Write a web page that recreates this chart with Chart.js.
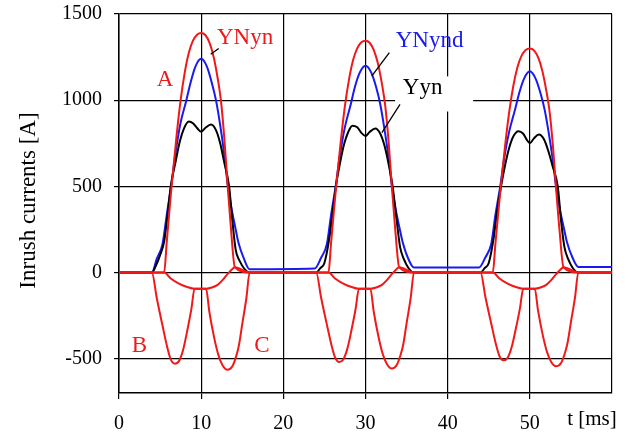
<!DOCTYPE html>
<html>
<head>
<meta charset="utf-8">
<script src="https://cdn.jsdelivr.net/npm/chart.js@4.4.1/dist/chart.umd.min.js"></script>
<style>
  html, body { margin: 0; padding: 0; background: #fff; }
  canvas { display: block; }
</style>
</head>
<body>
<canvas id="c" width="631" height="434"></canvas>
<script>
// ---------------- DATA ----------------
const xTicks = [0, 10, 20, 30, 40, 50];
const yTicks = [-500, 0, 500, 1000, 1500];
const xTitle = 't [ms]';
const yTitle = 'Inrush currents [A]';

// YNyn phase A (red)
const tA = [0, 5.5, 5.8, 6.1, 6.4, 7.0, 7.5, 8.0, 8.5, 9.0, 9.5, 10.0, 10.5, 11.0, 11.5, 12.0, 12.4, 12.8, 13.2, 13.6, 14.1, 15.9,
            25.5, 25.8, 26.1, 26.4, 27.0, 27.5, 28.0, 28.5, 29.0, 29.5, 30.0, 30.5, 31.0, 31.5, 32.0, 32.4, 32.8, 33.2, 33.6, 34.1, 35.9,
            45.5, 45.8, 46.1, 46.4, 47.0, 47.5, 48.0, 48.5, 49.0, 49.5, 50.0, 50.5, 51.0, 51.5, 52.0, 52.4, 52.8, 53.2, 53.6, 54.1, 55.9, 60];
const iA = [0, 0, 170, 340, 500, 790, 1000, 1160, 1275, 1345, 1380, 1390, 1378, 1335, 1255, 1130, 1000, 790, 520, 270, 30, 0,
            0, 165, 330, 485, 765, 968, 1122, 1234, 1302, 1336, 1345, 1333, 1292, 1215, 1094, 968, 765, 503, 261, 30, 0,
            0, 160, 318, 468, 740, 935, 1085, 1192, 1258, 1291, 1300, 1289, 1249, 1174, 1057, 935, 740, 486, 252, 30, 0, 0];

// YNyn phase B (red)
const tB = [0, 4.0, 4.6, 5.3, 5.9, 6.3, 6.8, 7.3, 7.8, 8.3, 8.8, 9.2, 10.6, 11.3, 12.0, 12.6, 13.2, 13.8, 14.1, 15.9,
            24.0, 24.6, 25.3, 25.9, 26.3, 26.8, 27.3, 27.8, 28.3, 28.8, 29.2, 30.6, 31.3, 32.0, 32.6, 33.2, 33.8, 34.1, 35.9,
            44.0, 44.6, 45.3, 45.9, 46.3, 46.8, 47.3, 47.8, 48.3, 48.8, 49.2, 50.6, 51.3, 52.0, 52.6, 53.2, 53.8, 54.1, 55.9, 60];
const iB = [0, 0, -150, -310, -440, -505, -530, -515, -450, -340, -215, -95, -95, -88, -72, -45, -10, 20, 30, 0,
            0, -147, -303, -430, -494, -520, -505, -441, -333, -211, -95, -95, -88, -72, -45, -10, 20, 30, 0,
            0, -144, -297, -422, -485, -510, -495, -432, -326, -207, -95, -95, -88, -72, -45, -10, 20, 30, 0, 0];

// YNyn phase C (red)
const tC = [0, 5.5, 6.3, 7.3, 8.3, 9.2, 10.6, 11.0, 11.6, 12.1, 12.6, 13.2, 13.8, 14.3, 14.6, 15.0, 15.5, 15.9,
            25.5, 26.3, 27.3, 28.3, 29.2, 30.6, 31.0, 31.6, 32.1, 32.6, 33.2, 33.8, 34.3, 34.6, 35.0, 35.5, 35.9,
            45.5, 46.3, 47.3, 48.3, 49.2, 50.6, 51.0, 51.6, 52.1, 52.6, 53.2, 53.8, 54.3, 54.6, 55.0, 55.5, 55.9, 60];
const iC = [0, 0, -35, -65, -85, -95, -95, -230, -383, -480, -539, -565, -545, -480, -422, -300, -150, 0,
            0, -35, -65, -85, -95, -95, -227, -378, -474, -532, -558, -538, -474, -417, -296, -148, 0,
            0, -35, -65, -85, -95, -95, -222, -370, -463, -520, -545, -526, -463, -407, -289, -145, 0, 0];

// YNynd (blue)
const tYNynd = [0, 4.0, 4.6, 5.3, 5.8, 6.4, 6.9, 7.5, 8.2, 8.7, 9.3, 10.0, 10.7, 11.3, 11.8, 12.3, 12.8, 13.2, 13.7, 14.2, 14.5, 15.2, 15.9,
                23.8, 24.6, 25.3, 25.8, 26.4, 26.9, 27.5, 28.2, 28.7, 29.3, 30.0, 30.7, 31.3, 31.8, 32.3, 32.8, 33.2, 33.7, 34.2, 34.5, 35.2, 35.9,
                43.8, 44.6, 45.3, 45.8, 46.4, 46.9, 47.5, 48.2, 48.7, 49.3, 50.0, 50.7, 51.3, 51.8, 52.3, 52.8, 53.2, 53.7, 54.2, 54.5, 55.2, 55.9, 60];
const iYNynd = [0, 0, 80, 165, 330, 520, 700, 870, 1000, 1100, 1195, 1240, 1195, 1100, 1000, 860, 690, 520, 370, 250, 180, 80, 18,
                22, 85, 165, 330, 510, 685, 845, 975, 1075, 1160, 1200, 1160, 1075, 975, 835, 670, 505, 360, 245, 180, 80, 28,
                28, 88, 165, 330, 500, 670, 820, 945, 1040, 1125, 1167, 1125, 1040, 945, 810, 650, 495, 355, 245, 180, 85, 32, 32];

// Yyn (black)
const tYyn = [0, 4.0, 4.5, 5.0, 5.5, 5.9, 6.3, 6.9, 7.4, 7.9, 8.5, 9.0, 9.5, 10.0, 10.5, 11.2, 11.8, 12.3, 12.8, 13.4, 13.8, 14.2, 14.6, 15.9,
              24.0, 24.5, 25.0, 25.6, 26.0, 26.4, 26.9, 27.4, 27.9, 28.4, 29.0, 29.5, 30.0, 30.5, 31.2, 31.8, 32.3, 32.8, 33.3, 33.8, 34.2, 34.6, 35.9,
              44.0, 44.5, 45.0, 45.6, 46.0, 46.5, 47.0, 47.5, 48.0, 48.6, 49.2, 49.6, 50.0, 50.5, 51.1, 51.7, 52.2, 52.8, 53.4, 53.8, 54.2, 54.6, 55.9, 60];
const iYyn = [0, 0, 40, 100, 180, 330, 500, 645, 760, 835, 876, 866, 838, 816, 838, 858, 826, 752, 640, 500, 300, 132, 74, 0,
              0, 25, 55, 200, 350, 500, 635, 745, 815, 852, 842, 810, 792, 815, 835, 805, 738, 632, 500, 300, 150, 85, 0,
              0, 25, 55, 200, 350, 500, 625, 725, 790, 820, 805, 772, 750, 778, 800, 774, 712, 612, 500, 300, 150, 85, 0, 0];

// ---------------- annotations (positions in data units) ----------------
const RED = '#f01818', BLUE = '#1a1af0', BLACK = '#000';
const notes = [
  { text: 'YNyn',  t: 15.34, v: 1328, color: RED },
  { text: 'A',     t: 5.6,   v: 1081, color: RED },
  { text: 'YNynd', t: 37.8,  v: 1306, color: BLUE },
  { text: 'Yyn',   t: 36.95, v: 1033, color: BLACK },
  { text: 'B',     t: 2.5,   v: -461, color: RED },
  { text: 'C',     t: 17.4,  v: -461, color: RED }
];
const leaders = [
  [11.16, 1266, 12.13, 1300],
  [32.9, 1276, 30.76, 1140],
  [34.2, 975, 32.0, 812]
];
const maskBox = [33.6, 1138, 43.1, 934];

function pts(ts, vs) { return ts.map((t, i) => ({ x: t, y: vs[i] })); }

const SERIF = "'Liberation Serif', 'Times New Roman', Times, serif";

const annotPlugin = {
  id: 'annot',
  afterDatasetsDraw(chart) {
    const { ctx, scales: { x, y }, chartArea } = chart;
    ctx.save();
    // white mask behind the Yyn label
    const bx0 = x.getPixelForValue(maskBox[0]), by0 = y.getPixelForValue(maskBox[1]);
    const bx1 = x.getPixelForValue(maskBox[2]), by1 = y.getPixelForValue(maskBox[3]);
    ctx.fillStyle = '#fff';
    ctx.fillRect(bx0, by0, bx1 - bx0, by1 - by0);
    // leader lines
    ctx.strokeStyle = '#000';
    ctx.lineWidth = 1.3;
    leaders.forEach(l => {
      ctx.beginPath();
      ctx.moveTo(x.getPixelForValue(l[0]), y.getPixelForValue(l[1]));
      ctx.lineTo(x.getPixelForValue(l[2]), y.getPixelForValue(l[3]));
      ctx.stroke();
    });
    // labels
    ctx.font = '23px ' + SERIF;
    ctx.textAlign = 'center';
    ctx.textBaseline = 'alphabetic';
    notes.forEach(n => {
      ctx.fillStyle = n.color;
      ctx.fillText(n.text, x.getPixelForValue(n.t), y.getPixelForValue(n.v));
    });
    // axis titles
    ctx.fillStyle = '#000';
    ctx.font = '21px ' + SERIF;
    ctx.textAlign = 'center';
    ctx.fillText(xTitle, 592, chartArea.bottom + 32);
    ctx.save();
    ctx.translate(35, (chartArea.top + chartArea.bottom) / 2 - 3);
    ctx.rotate(-Math.PI / 2);
    ctx.font = '23px ' + SERIF;
    ctx.fillText(yTitle, 0, 0);
    ctx.restore();
    ctx.restore();
  }
};

const lineDs = (label, ts, vs, color, order) => ({
  label, data: pts(ts, vs), borderColor: color, backgroundColor: color,
  borderWidth: 2, pointRadius: 0, fill: false, cubicInterpolationMode: 'monotone', order
});

new Chart(document.getElementById('c'), {
  type: 'line',
  data: {
    datasets: [
      lineDs('A', tA, iA, RED, 0),
      lineDs('B', tB, iB, RED, 0),
      lineDs('C', tC, iC, RED, 0),
      lineDs('Yyn', tYyn, iYyn, BLACK, 1),
      lineDs('YNynd', tYNynd, iYNynd, BLUE, 2)
    ]
  },
  options: {
    responsive: false,
    animation: false,
    layout: { padding: { left: 0, right: 19, top: 14, bottom: 0 } },
    plugins: { legend: { display: false }, tooltip: { enabled: false } },
    scales: {
      x: {
        type: 'linear', min: 0, max: 60,
        afterFit(s) { s.height = 41; s.paddingLeft = 0; s.paddingRight = 0; },
        afterBuildTicks(s) { s.ticks = xTicks.concat([60]).map(v => ({ value: v })); },
        ticks: {
          color: '#000', padding: 13, maxRotation: 0, autoSkip: false,
          font: { family: SERIF, size: 20 },
          callback: v => xTicks.includes(v) ? String(v) : ''
        },
        grid: {
          color: '#000', lineWidth: 1.2, tickLength: 6,
          tickColor: c => (c.tick && c.tick.value === 60) ? 'rgba(0,0,0,0)' : '#000'
        },
        border: { display: true, color: '#000', width: 1.5 }
      },
      y: {
        min: -700, max: 1500,
        afterFit(s) { s.width = 119; s.paddingTop = 0; s.paddingBottom = 0; },
        afterBuildTicks(s) { s.ticks = [-700].concat(yTicks).map(v => ({ value: v })); },
        ticks: {
          color: '#000', padding: 12, autoSkip: false,
          font: { family: SERIF, size: 20 },
          callback: v => yTicks.includes(v) ? String(v) : ''
        },
        grid: {
          color: c => (c.tick && c.tick.value === -700) ? 'rgba(0,0,0,0)' : '#000',
          lineWidth: 1.2, tickLength: 5,
          tickColor: c => (c.tick && c.tick.value === -700) ? 'rgba(0,0,0,0)' : '#000'
        },
        border: { display: true, color: '#000', width: 1.5 }
      }
    }
  },
  plugins: [annotPlugin]
});
</script>
</body>
</html>
